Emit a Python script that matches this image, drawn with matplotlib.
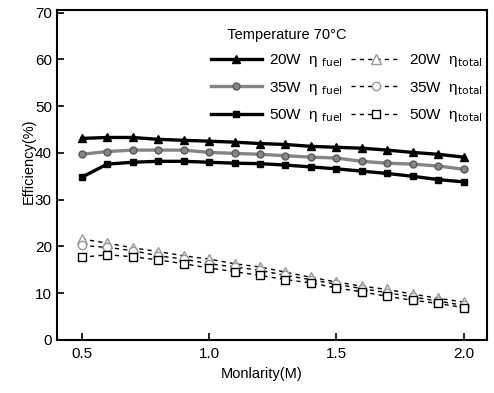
import numpy as np
import matplotlib.pyplot as plt

plt.rcParams['font.family'] = ['Liberation Sans', 'DejaVu Sans']

# molarity (M)
x = [0.5, 0.6, 0.7, 0.8, 0.9, 1.0, 1.1, 1.2, 1.3, 1.4, 1.5, 1.6, 1.7, 1.8, 1.9, 2.0]

# fuel efficiency (%)
fuel_20 = [43.1, 43.3, 43.3, 42.9, 42.7, 42.5, 42.3, 42.0, 41.8, 41.4, 41.2, 41.0, 40.6, 40.1, 39.7, 39.1]
fuel_35 = [39.7, 40.3, 40.6, 40.6, 40.6, 40.1, 39.9, 39.7, 39.4, 39.1, 38.9, 38.2, 37.8, 37.6, 37.2, 36.5]
fuel_50 = [34.8, 37.6, 38.0, 38.2, 38.2, 38.0, 37.8, 37.7, 37.4, 37.0, 36.6, 36.1, 35.6, 35.0, 34.3, 33.8]

# total efficiency (%)
total_20 = [21.6, 20.7, 19.7, 18.9, 18.0, 17.3, 16.3, 15.6, 14.5, 13.4, 12.4, 11.5, 10.8, 9.8, 8.9, 8.1]
total_35 = [20.2, 19.8, 19.1, 18.0, 17.3, 16.3, 15.6, 14.9, 13.8, 12.9, 11.9, 11.0, 10.1, 9.2, 8.3, 7.4]
total_50 = [17.7, 18.2, 17.8, 17.1, 16.3, 15.4, 14.6, 13.8, 12.9, 12.2, 11.1, 10.3, 9.3, 8.5, 7.8, 6.9]

fig = plt.figure(figsize=(4.94, 3.93), dpi=100)
ax = fig.add_axes([0.115, 0.135, 0.87, 0.84])

h1, = ax.plot(x, fuel_20, '-^', color='black', lw=2.4, ms=6, label='20W  η $_{\\rm fuel}$')
h2, = ax.plot(x, fuel_35, '-o', color='#858585', lw=2.4, ms=5, mec='#5a5a5a', label='35W  η $_{\\rm fuel}$')
h3, = ax.plot(x, fuel_50, '-s', color='black', lw=2.4, ms=5, label='50W  η $_{\\rm fuel}$')

dash = (0, (3, 3))
h4, = ax.plot(x, total_20, '^', ls=dash, color='black', lw=1.0, ms=7, mfc='white', mec='#999999', label='20W  η$_{\\rm total}$')
h5, = ax.plot(x, total_35, 'o', ls=dash, color='black', lw=1.0, ms=6, mfc='white', mec='#999999', label='35W  η$_{\\rm total}$')
h6, = ax.plot(x, total_50, 's', ls=dash, color='black', lw=1.0, ms=6, mfc='white', mec='black', label='50W  η$_{\\rm total}$')

ax.set_xlim(0.402, 2.09)
ax.set_ylim(0, 70.6)
ax.set_xticks([0.5, 1.0, 1.5, 2.0])
ax.set_xticklabels(['0.5', '1.0', '1.5', '2.0'])
ax.set_yticks(np.arange(0, 71, 10))
ax.tick_params(direction='in', length=5, width=1.2, labelsize=11, top=False, right=False)
ax.tick_params(axis='x', pad=5)
for s in ax.spines.values():
    s.set_linewidth(1.5)

ax.set_xlabel('Monlarity(M)', fontsize=10.5)
ax.xaxis.set_label_coords(0.477, -0.082)
ax.set_ylabel('Efficiency(%)', fontsize=10.5)
ax.yaxis.set_label_coords(-0.05, 0.54)

leg = ax.legend(handles=[h1, h2, h3, h4, h5, h6], ncol=2, frameon=False,
                loc='upper right', bbox_to_anchor=(1.005, 0.964), borderaxespad=0,
                fontsize=11, title='    Temperature 70°C', title_fontsize=10.5,
                handlelength=3.3, columnspacing=0.5, handletextpad=0.5,
                labelspacing=0.68, alignment='left')

fig.savefig('out.png', dpi=100)
